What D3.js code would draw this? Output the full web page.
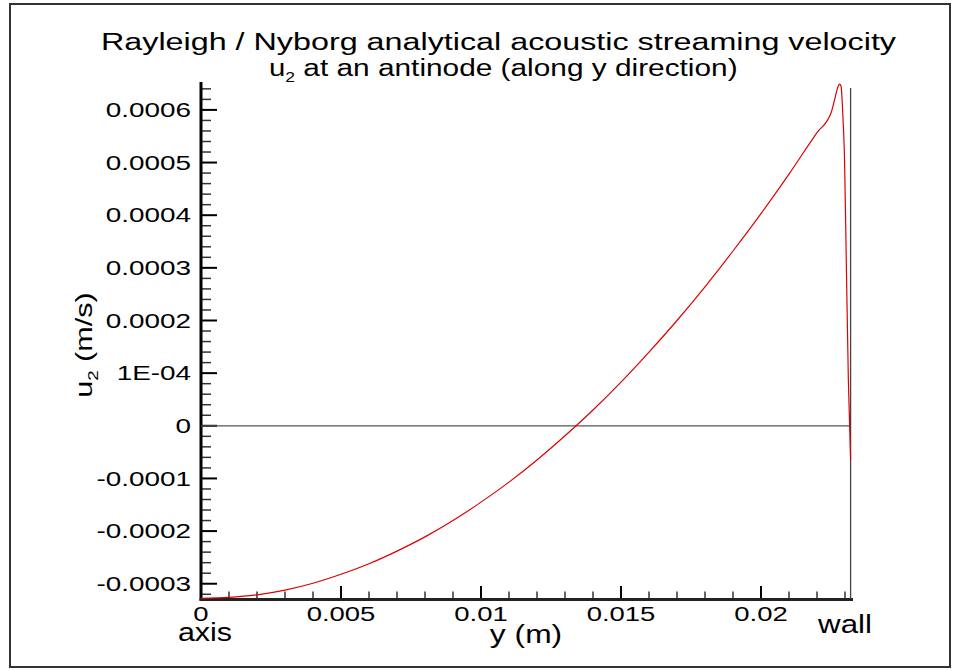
<!DOCTYPE html>
<html>
<head>
<meta charset="utf-8">
<script src="https://cdn.jsdelivr.net/npm/d3@7"></script>
<style>
  html, body { margin: 0; padding: 0; background: #fff; }
  svg { display: block; }
  text { font-family: "Liberation Sans", Arial, Helvetica, sans-serif; fill: #000; }
</style>
</head>
<body>
<svg id="chart" width="960" height="671"></svg>
<script>
// Distance from the axis (m) and streaming velocity u2 (m/s)
const yPos = [0, 0.001, 0.002, 0.003, 0.004, 0.005, 0.006, 0.007, 0.008, 0.009,
  0.010, 0.011, 0.012, 0.013, 0.014, 0.015, 0.016, 0.017, 0.018, 0.019,
  0.020, 0.021, 0.022, 0.0225, 0.02264, 0.02273, 0.0228, 0.02286, 0.0229,
  0.02294, 0.02298, 0.02305, 0.02312, 0.0232];
const u2 = [-3.28e-4, -3.26e-4, -3.21e-4, -3.12e-4, -2.99e-4, -2.82e-4, -2.62e-4,
  -2.38e-4, -2.11e-4, -1.80e-4, -1.45e-4, -1.07e-4, -0.65e-4, -0.19e-4, 0.30e-4,
  0.83e-4, 1.40e-4, 2.00e-4, 2.64e-4, 3.32e-4, 4.03e-4, 4.78e-4, 5.57e-4,
  5.94e-4, 6.22e-4, 6.41e-4, 6.49e-4, 6.45e-4, 6.16e-4, 5.71e-4, 5.14e-4,
  3.00e-4, 0.87e-4, -0.65e-4];

// Wall position (m)
const wallPos = 0.0232;

// Axis ticks
const xTicks = [0, 0.005, 0.01, 0.015, 0.02];
const xTickLabels = ["0", "0.005", "0.01", "0.015", "0.02"];
const yTicks = [-0.0003, -0.0002, -0.0001, 0, 0.0001, 0.0002, 0.0003, 0.0004, 0.0005, 0.0006];
const yTickLabels = ["-0.0003", "-0.0002", "-0.0001", "0", "1E-04", "0.0002", "0.0003", "0.0004", "0.0005", "0.0006"];

const svg = d3.select("#chart");

const x = d3.scaleLinear().domain([0, 0.02325]).range([201, 852]);
const y = d3.scaleLinear().domain([-0.000329, 0.000653]).range([599, 82]);

// Outer frame
svg.append("rect")
  .attr("x", 10).attr("y", 4).attr("width", 940).attr("height", 663)
  .attr("fill", "none").attr("stroke", "#333").attr("stroke-width", 2);

// Text with wide glyphs (horizontal stretch sx in the glyph frame)
function label(g, txt, px, py, size, anchor, sx, rot) {
  return g.append("text")
    .attr("transform", `translate(${px},${py})` + (rot ? ` rotate(${rot})` : "") + ` scale(${sx},1)`)
    .attr("font-size", size)
    .attr("text-anchor", anchor)
    .text(txt);
}

// Title (two lines, second with subscript)
const tg = svg.append("g");
tg.append("text")
  .attr("transform", "translate(101,50) scale(1.25,1)")
  .attr("font-size", 23.5)
  .attr("textLength", 636).attr("lengthAdjust", "spacingAndGlyphs")
  .text("Rayleigh / Nyborg analytical acoustic streaming velocity");
const t2 = tg.append("text")
  .attr("transform", "translate(269,76) scale(1.25,1)")
  .attr("font-size", 23.5);
t2.append("tspan").text("u");
t2.append("tspan").attr("font-size", 14).attr("dy", 6).text("2");
t2.append("tspan").attr("dy", -6).attr("textLength", 354).attr("lengthAdjust", "spacingAndGlyphs")
  .text(" at an antinode (along y direction)");

// Minor ticks
const yMinor = d3.range(-16, 33).map(i => i * 0.00002).filter(v => Math.abs(Math.round(v * 1e4) - v * 1e4) > 1e-6);
const xMinor = d3.range(0, 24).map(i => i * 0.001).filter(v => Math.abs(Math.round(v * 200) - v * 200) > 1e-6);

const axes = svg.append("g");
axes.selectAll("line.ymin").data(yMinor).join("line")
  .attr("x1", 201).attr("x2", 211)
  .attr("y1", d => y(d)).attr("y2", d => y(d))
  .attr("stroke", "#333").attr("stroke-width", 1.5);
axes.selectAll("line.ymaj").data(yTicks).join("line")
  .attr("x1", 201).attr("x2", 217)
  .attr("y1", d => y(d)).attr("y2", d => y(d))
  .attr("stroke", "#000").attr("stroke-width", 2);
axes.selectAll("line.xmin").data(xMinor).join("line")
  .attr("x1", d => x(d)).attr("x2", d => x(d))
  .attr("y1", 599).attr("y2", 591.5)
  .attr("stroke", "#333").attr("stroke-width", 1.5);
axes.selectAll("line.xmaj").data(xTicks).join("line")
  .attr("x1", d => x(d)).attr("x2", d => x(d))
  .attr("y1", 599).attr("y2", 586)
  .attr("stroke", "#000").attr("stroke-width", 2);

// Zero line and wall
svg.append("line")
  .attr("x1", x(0)).attr("x2", x(wallPos)).attr("y1", y(0)).attr("y2", y(0))
  .attr("stroke", "#555").attr("stroke-width", 1.3);
svg.append("line")
  .attr("x1", x(wallPos)).attr("x2", x(wallPos)).attr("y1", 88).attr("y2", 599)
  .attr("stroke", "#444").attr("stroke-width", 1.3);

// Axis lines
axes.append("line").attr("x1", 201).attr("x2", 201).attr("y1", 82).attr("y2", 600.5)
  .attr("stroke", "#000").attr("stroke-width", 3);
axes.append("line").attr("x1", 199.5).attr("x2", 853).attr("y1", 599.5).attr("y2", 599.5)
  .attr("stroke", "#222").attr("stroke-width", 3);

// Curve
const pts = yPos.map((v, i) => [v, u2[i]]);
svg.append("path")
  .datum(pts)
  .attr("fill", "none")
  .attr("stroke", "#dd0000")
  .attr("stroke-width", 1.2)
  .attr("d", d3.line().x(d => x(d[0])).y(d => y(d[1])).curve(d3.curveMonotoneX));

// Tick labels
const lg = svg.append("g");
yTicks.forEach((v, i) => label(lg, yTickLabels[i], 191, y(v) + 7.3, 20.5, "end", 1.36));
xTicks.forEach((v, i) => label(lg, xTickLabels[i], x(v), 621, 20.5, "middle", 1.34));

// Axis titles
label(lg, "axis", 205, 641, 25, "middle", 1.22);
label(lg, "wall", 845, 633, 25, "middle", 1.25);
label(lg, "y (m)", 526, 643, 25, "middle", 1.27);
const yt = lg.append("text")
  .attr("transform", "translate(92,345) rotate(-90) scale(1.25,1)")
  .attr("font-size", 24.5).attr("text-anchor", "middle");
yt.append("tspan").text("u");
yt.append("tspan").attr("font-size", 15).attr("dy", 6).text("2");
yt.append("tspan").attr("dy", -6).text(" (m/s)");
</script>
</body>
</html>
